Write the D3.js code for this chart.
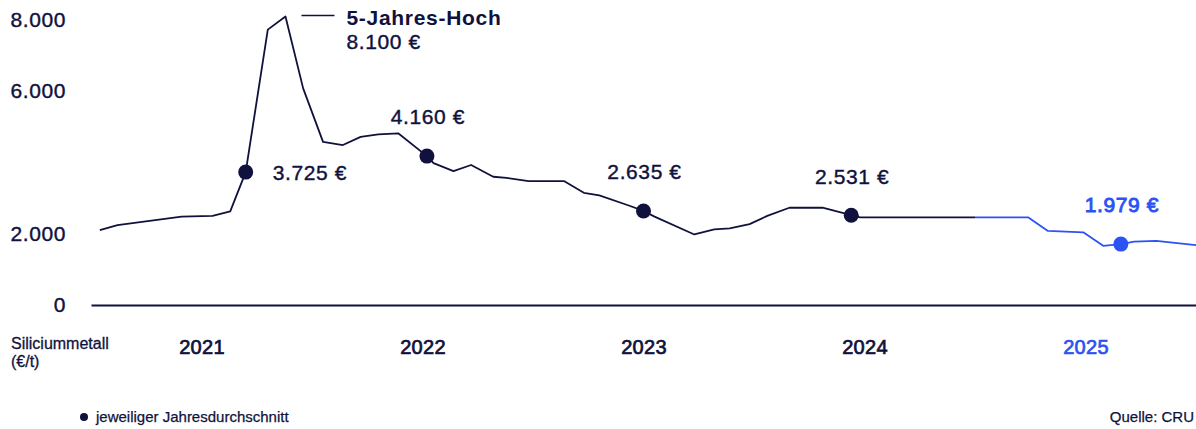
<!DOCTYPE html>
<html lang="de">
<head>
<meta charset="utf-8">
<script src="https://cdn.jsdelivr.net/npm/d3@7"></script>
<style>
  html, body { margin: 0; padding: 0; background: #fff; }
  svg { display: block; font-family: "Liberation Sans", Arial, sans-serif; }
</style>
</head>
<body>
<svg id="chart" width="1196" height="429"></svg>
<script>
// Siliciummetall price (EUR/t), decimal year
const dates = [2021.04, 2021.12, 2021.41, 2021.55, 2021.63, 2021.70, 2021.80, 2021.88, 2021.96,
  2022.05, 2022.14, 2022.22, 2022.30, 2022.39, 2022.52, 2022.55, 2022.64, 2022.72, 2022.82, 2022.88, 2022.98,
  2023.14, 2023.23, 2023.30, 2023.43, 2023.50, 2023.55, 2023.73, 2023.82, 2023.89, 2023.98,
  2024.06, 2024.16, 2024.31, 2024.44, 2024.48,
  2025.00, 2025.24, 2025.33, 2025.49, 2025.58, 2025.66, 2025.72, 2025.82, 2026.00];
const prices = [2100, 2240, 2480, 2500, 2630, 3730, 7730, 8100, 6080,
  4580, 4490, 4720, 4790, 4820, 4180, 3980, 3760, 3930, 3600, 3570, 3480,
  3480, 3150, 3080, 2800, 2640, 2480, 1980, 2120, 2150, 2270,
  2500, 2730, 2730, 2520, 2460,
  2460, 2460, 2080, 2040, 1660, 1710, 1780, 1800, 1680];

// annual averages
const years = [2021, 2022, 2023, 2024, 2025];
const avgDates = [2021.70, 2022.52, 2023.50, 2024.44, 2025.66];
const avgValues = [3725, 4160, 2635, 2531, 1979];

const yTicks = [0, 2000, 6000, 8000];
const forecastFrom = 2025;

const navy = '#10123d';
const blue = '#2c52f3';

const de = d3.formatLocale({ decimal: ',', thousands: '.', grouping: [3], currency: ['', ' €'] });
const fmt = de.format(',.0f');

const data = dates.map((d, i) => ({ t: d, v: prices[i] }));

const svg = d3.select('#chart');

const x = d3.scaleLinear().domain([2021, 2026]).range([91, 1196]);
const y = d3.scaleLinear().domain([0, 8000]).range([305, 20]);

// slightly heavier text, the original uses a medium grotesque
function medium(sel, color, w) {
  sel.attr('stroke', color).attr('stroke-width', w).attr('paint-order', 'stroke');
}

// Y-Achse (nur Beschriftung)
const yAxis = svg.append('g')
  .attr('transform', 'translate(66,0)')
  .call(d3.axisLeft(y).tickValues(yTicks).tickSize(0).tickPadding(0).tickFormat(fmt));
yAxis.select('.domain').remove();
yAxis.selectAll('text')
  .attr('fill', navy)
  .style('font-size', '21px')
  .style('letter-spacing', '0.6px')
  .call(medium, navy, 0.4);

// X-Achse mit Jahreszahlen
const xAxis = svg.append('g')
  .attr('transform', `translate(0,${y(0)})`)
  .call(d3.axisBottom(x)
    .tickValues(years.map(yr => yr + 0.5))
    .tickSize(0)
    .tickSizeOuter(0)
    .tickPadding(35)
    .tickFormat(d => String(Math.floor(d))));
xAxis.select('.domain').attr('stroke', navy).attr('stroke-width', 2.2);
xAxis.selectAll('text')
  .attr('fill', d => Math.floor(d) >= forecastFrom ? blue : navy)
  .attr('stroke', d => Math.floor(d) >= forecastFrom ? blue : navy)
  .attr('stroke-width', 0.7)
  .attr('paint-order', 'stroke')
  .style('font-size', '20px')
  .style('letter-spacing', '0.3px');

// Linie
const line = d3.line().x(d => x(d.t)).y(d => y(d.v));

svg.append('path')
  .datum(data.filter(d => d.t <= forecastFrom))
  .attr('fill', 'none')
  .attr('stroke', navy)
  .attr('stroke-width', 1.8)
  .attr('stroke-linejoin', 'round')
  .attr('d', line);

svg.append('path')
  .datum(data.filter(d => d.t >= forecastFrom))
  .attr('fill', 'none')
  .attr('stroke', blue)
  .attr('stroke-width', 1.8)
  .attr('stroke-linejoin', 'round')
  .attr('d', line);

// Jahresdurchschnitt-Punkte (auf der Linie)
const interp = t => {
  const i = d3.bisector(d => d.t).left(data, t);
  if (i <= 0) return data[0].v;
  if (i >= data.length) return data[data.length - 1].v;
  const a = data[i - 1], b = data[i];
  return a.v + (b.v - a.v) * (t - a.t) / (b.t - a.t);
};

const avg = avgDates.map((t, i) => ({ t, year: years[i], label: avgValues[i], v: interp(t) }));

svg.selectAll('.avg-dot')
  .data(avg)
  .enter()
  .append('circle')
  .attr('class', 'avg-dot')
  .attr('cx', d => x(d.t))
  .attr('cy', d => y(d.v))
  .attr('r', 7.5)
  .attr('fill', d => d.year >= forecastFrom ? blue : navy);

svg.selectAll('.avg-label')
  .data(avg)
  .enter()
  .append('text')
  .attr('class', 'avg-label')
  .attr('x', (d, i) => i === 0 ? x(d.t) + 27 : x(d.t) + 1)
  .attr('y', (d, i) => i === 0 ? y(d.v) + 1 : y(d.v) - 39)
  .attr('dy', '0.35em')
  .attr('text-anchor', (d, i) => i === 0 ? 'start' : 'middle')
  .attr('fill', d => d.year >= forecastFrom ? blue : navy)
  .attr('stroke', d => d.year >= forecastFrom ? blue : navy)
  .attr('stroke-width', d => d.year >= forecastFrom ? 0.9 : 0.4)
  .attr('paint-order', 'stroke')
  .style('font-size', '21px')
  .style('letter-spacing', '0.6px')
  .text(d => fmt(d.label) + ' €');

// 5-Jahres-Hoch
const peak = data[d3.maxIndex(data, d => d.v)];
const px = x(peak.t), py = y(peak.v);
svg.append('line')
  .attr('x1', px + 16).attr('x2', px + 49)
  .attr('y1', py - 1).attr('y2', py - 1)
  .attr('stroke', navy)
  .attr('stroke-width', 1.5);
svg.append('text')
  .attr('x', px + 61)
  .attr('y', py + 1)
  .attr('dy', '0.35em')
  .attr('fill', navy)
  .style('font-size', '21px')
  .style('font-weight', 'bold')
  .style('letter-spacing', '0.7px')
  .text('5-Jahres-Hoch');
svg.append('text')
  .attr('x', px + 61)
  .attr('y', py + 25)
  .attr('dy', '0.35em')
  .attr('fill', navy)
  .style('font-size', '21px')
  .style('letter-spacing', '0.6px')
  .call(medium, navy, 0.4)
  .text(fmt(peak.v) + ' €');

// Einheit
svg.append('text')
  .attr('x', 11).attr('y', 343).attr('dy', '0.35em')
  .attr('fill', navy)
  .style('font-size', '16px')
  .call(medium, navy, 0.3)
  .text('Siliciummetall');
svg.append('text')
  .attr('x', 11).attr('y', 361).attr('dy', '0.35em')
  .attr('fill', navy)
  .style('font-size', '16px')
  .call(medium, navy, 0.3)
  .text('(€/t)');

// Legende und Quelle
svg.append('circle')
  .attr('cx', 84).attr('cy', 417).attr('r', 4)
  .attr('fill', navy);
svg.append('text')
  .attr('x', 96).attr('y', 417).attr('dy', '0.35em')
  .attr('fill', navy)
  .style('font-size', '15px')
  .call(medium, navy, 0.25)
  .text('jeweiliger Jahresdurchschnitt');
svg.append('text')
  .attr('x', 1194).attr('y', 417).attr('dy', '0.35em')
  .attr('text-anchor', 'end')
  .attr('fill', navy)
  .style('font-size', '15px')
  .call(medium, navy, 0.25)
  .text('Quelle: CRU');
</script>
</body>
</html>
